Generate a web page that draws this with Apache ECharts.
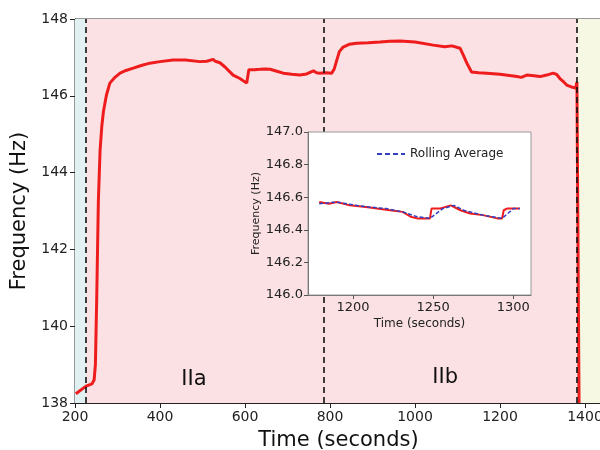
<!DOCTYPE html>
<html><head><meta charset="utf-8">
<script src="https://cdn.jsdelivr.net/npm/echarts@6/dist/echarts.min.js"></script>
<style>html,body{margin:0;padding:0;background:#fff}#c{width:600px;height:450px}</style>
</head><body><div id="c"></div>
<script>
// Main trace (time s, frequency Hz)
var mainTime = [202,226,240,245,248,251,255,259,263,267,274,282,294,306,320,337,356,376,400,431,460,494,510,525,530,541,553,562,572,588,604,607,609,622,635,647,659,675,690,710,729,745,761,768,776,790,804,810,816,822,831,845,863,890,918,940,965,1000,1043,1070,1087,1106,1114,1122,1133,1150,1169,1200,1240,1250,1263,1280,1294,1310,1325,1333,1341,1350,1357,1368,1378,1381,1385,1386];
var mainFreq = [138.24,138.44,138.5,138.6,139.0,140.66,143.27,144.58,145.2,145.6,146.02,146.33,146.48,146.59,146.66,146.72,146.79,146.85,146.89,146.93,146.93,146.89,146.9,146.95,146.9,146.86,146.75,146.65,146.54,146.45,146.33,146.31,146.68,146.68,146.69,146.7,146.69,146.64,146.59,146.56,146.54,146.57,146.65,146.6,146.59,146.6,146.59,146.7,146.93,147.15,147.27,147.34,147.37,147.38,147.40,147.42,147.43,147.4,147.32,147.28,147.3,147.24,147.05,146.85,146.62,146.6,146.59,146.56,146.5,146.48,146.54,146.52,146.5,146.54,146.59,146.56,146.45,146.36,146.28,146.23,146.20,146.36,146.36,138.0];
// Inset: raw trace
var insetTime = [1179,1185,1190,1198,1208,1215,1223,1231,1236,1240,1248,1249,1254,1261,1267,1273,1281,1290,1293,1294,1296,1304];
var insetFreq = [146.57,146.56,146.57,146.55,146.54,146.53,146.52,146.51,146.48,146.47,146.47,146.53,146.53,146.55,146.52,146.50,146.49,146.47,146.47,146.52,146.53,146.53];
// Inset: rolling average
var avgTime = [1179,1190,1202,1210,1221,1231,1240,1248,1256,1263,1269,1281,1293,1300,1304];
var avgFreq = [146.56,146.57,146.55,146.54,146.53,146.51,146.48,146.47,146.53,146.55,146.52,146.49,146.47,146.53,146.53];
// Phase boundaries and labels
var phaseBounds = [200,226,1381,1440];
var dividers = [226,786,1381];
var phaseLabels = [{name:'IIa', x:480, y:138.6},{name:'IIb', x:1071, y:138.65}];
var mainXTicks = [200,400,600,800,1000,1200,1400];
var insetXTicks = [1200,1250,1300];

function pairs(a,b){return a.map(function(v,i){return [v,b[i]];});}
var F = 'DejaVu Sans';
var chart = echarts.init(document.getElementById('c'));
chart.setOption({
  animation:false,
  textStyle:{fontFamily:F},
  legend:{
    data:[{name:'Rolling Average', icon:'path://M0,4h5v2h-5zM8,4h5v2h-5zM16,4h5v2h-5zM24,4h4v2h-4z'}],
    left:372, top:143, itemWidth:28, itemHeight:10,
    itemStyle:{color:'#3340c0'},
    textStyle:{fontFamily:F,fontSize:12,color:'#222'}, z:20
  },
  grid:[
    {left:75, top:19, width:527, height:384, outerBoundsMode:'none', containLabel:false, show:true, borderColor:'#333', borderWidth:1, backgroundColor:'transparent'},
    {left:308, top:132, width:223, height:163, outerBoundsMode:'none', containLabel:false, show:true, borderColor:'#999', borderWidth:1, backgroundColor:'#ffffff', z:10}
  ],
  xAxis:[
    {type:'value', gridIndex:0, min:200, max:1440, interval:200,
     name:'Time (seconds)', nameLocation:'middle', nameGap:27,
     nameTextStyle:{fontFamily:F,fontSize:21,color:'#111'},
     axisLine:{lineStyle:{color:'#222',width:1}}, axisTick:{show:true,length:5,lineStyle:{color:'#222'}},
     axisLabel:{fontFamily:F,fontSize:14,color:'#222',margin:7,showMaxLabel:false,
       formatter:function(v){return mainXTicks.indexOf(v)>=0?String(v):'';}},
     splitLine:{show:false}},
    {type:'value', gridIndex:1, min:1172, max:1311, z:12,
     name:'Time (seconds)', nameLocation:'middle', nameGap:23,
     nameTextStyle:{fontFamily:F,fontSize:12,color:'#222'},
     axisLine:{lineStyle:{color:'#777',width:1}},
     axisTick:{show:true,length:4,customValues:insetXTicks,lineStyle:{color:'#555'}},
     axisLabel:{fontFamily:F,fontSize:13,color:'#222',margin:6,customValues:insetXTicks,
       formatter:function(v){return String(v);}},
     splitLine:{show:false}}
  ],
  yAxis:[
    {type:'value', gridIndex:0, min:138, max:148, interval:2,
     name:'Frequency (Hz)', nameLocation:'middle', nameGap:40,
     nameTextStyle:{fontFamily:F,fontSize:21,color:'#111'},
     axisLine:{show:true,lineStyle:{color:'#222',width:1}}, axisTick:{show:true,length:5,lineStyle:{color:'#222'}},
     axisLabel:{fontFamily:F,fontSize:14,color:'#222',margin:7},
     splitLine:{show:false}},
    {type:'value', gridIndex:1, min:146.0, max:147.0, interval:0.2, z:12,
     name:'Frequency (Hz)', nameLocation:'middle', nameGap:46,
     nameTextStyle:{fontFamily:F,fontSize:11,color:'#222'},
     axisLine:{show:true,lineStyle:{color:'#777',width:1}}, axisTick:{show:true,length:4,lineStyle:{color:'#555'}},
     axisLabel:{fontFamily:F,fontSize:13,color:'#222',margin:5,formatter:function(v){return v.toFixed(1);}},
     splitLine:{show:false}}
  ],
  series:[
    {type:'line', xAxisIndex:0, yAxisIndex:0, data:pairs(mainTime,mainFreq), symbol:'none', z:3,
     lineStyle:{color:'#ee1c1c',width:3}, clip:true,
     markArea:{silent:true, data:[
       [{xAxis:phaseBounds[0],itemStyle:{color:'#e1f1f1'}},{xAxis:phaseBounds[1]}],
       [{xAxis:phaseBounds[1],itemStyle:{color:'#fbe1e4'}},{xAxis:phaseBounds[2]}],
       [{xAxis:phaseBounds[2],itemStyle:{color:'#f6f8e3'}},{xAxis:phaseBounds[3]}]
     ]},
     markLine:{silent:true, symbol:'none', label:{show:false},
       lineStyle:{color:'#111',type:[6,4],width:1.6},
       data:dividers.map(function(d){return {xAxis:d};})},
     markPoint:{silent:true, symbol:'circle', symbolSize:0,
       label:{show:true, formatter:'{b}', fontFamily:F, fontSize:21, color:'#111'},
       data:phaseLabels.map(function(p){return {name:p.name, coord:[p.x,p.y]};})}
    },
    {type:'line', name:'Raw', xAxisIndex:1, yAxisIndex:1, data:pairs(insetTime,insetFreq), symbol:'none', z:13,
     lineStyle:{color:'#ee1c1c',width:2}},
    {type:'line', name:'Rolling Average', xAxisIndex:1, yAxisIndex:1, data:pairs(avgTime,avgFreq), symbol:'none', z:14,
     lineStyle:{color:'#3340c0',width:1.5,type:[4,2]}, itemStyle:{color:'#3340c0'}}
  ]
});
</script></body></html>
